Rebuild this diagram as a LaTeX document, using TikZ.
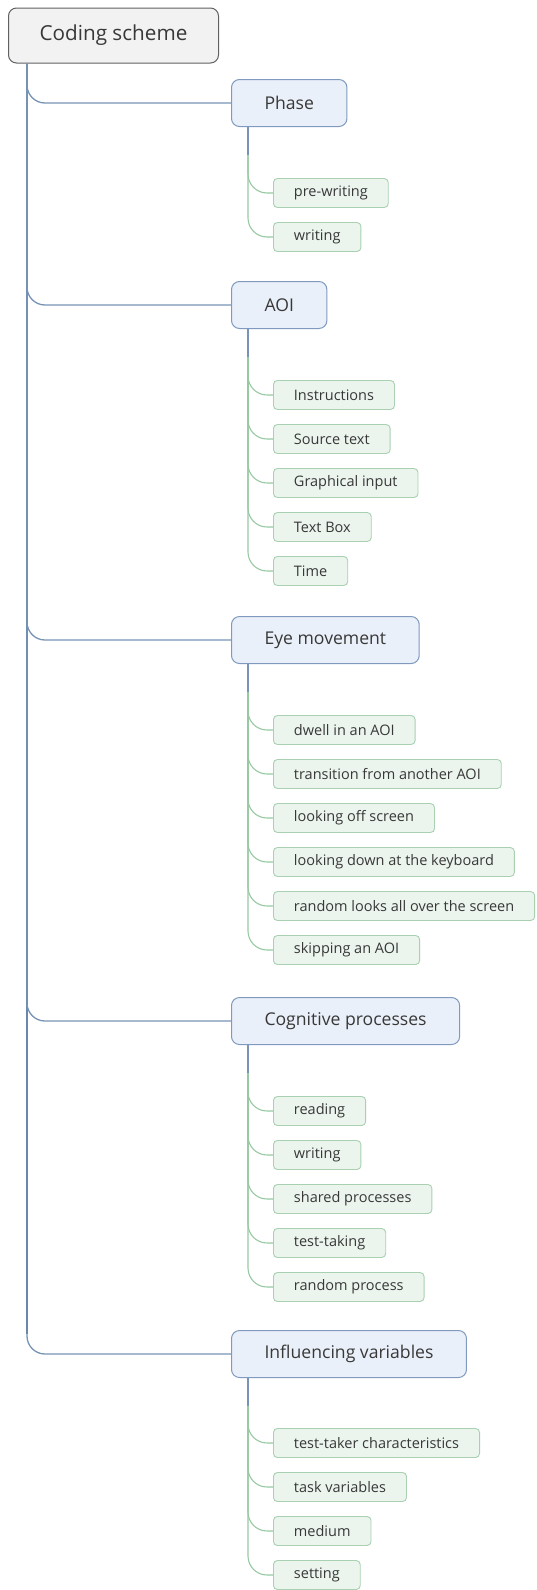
\documentclass[tikz,border=0pt]{standalone}
\usepackage{fontspec}
\setmainfont{Open Sans}
\begin{document}
\begin{tikzpicture}[x=1pt,y=-1pt,
  every node/.style={text=black!78, font=\fontsize{14.5}{16}\selectfont},
  rootbox/.style={draw=black!62, fill=black!5, line width=1pt, rounded corners=8pt,
    minimum height=55pt, inner xsep=29pt, anchor=west, font=\fontsize{20.7}{24}\selectfont},
  topicbox/.style={draw=topicline, fill=topicfill, line width=1pt, rounded corners=8pt,
    minimum height=47pt, inner xsep=33pt, anchor=west, font=\fontsize{17.6}{20}\selectfont},
  itembox/.style={draw=itemline, fill=itemfill, line width=0.9pt, rounded corners=4pt,
    minimum height=29pt, inner xsep=20.5pt, anchor=west},
  trunk/.style={draw=trunkcol, line width=2pt},
  branch/.style={draw=branchcol, line width=1.3pt, rounded corners=18pt},
  stem/.style={draw=branchcol, line width=1.2pt},
  twig/.style={draw=twigcol, line width=1.1pt, rounded corners=19pt}]
\definecolor{topicline}{HTML}{7F9ABE}
\definecolor{topicfill}{HTML}{EAF0F9}
\definecolor{itemline}{HTML}{A8D0B1}
\definecolor{itemfill}{HTML}{EBF5EE}
\definecolor{trunkcol}{HTML}{55769B}
\definecolor{branchcol}{HTML}{7793B6}
\definecolor{twigcol}{HTML}{96C9A1}

\useasboundingbox (0,0) rectangle (537,1590);

% root
\node[rootbox, minimum width=210pt] (root) at (8,35.5) {Coding scheme};

% main topics
\node[topicbox] (phase) at (231,103) {Phase};
\node[topicbox] (aoi) at (231,305) {AOI};
\node[topicbox] (eye) at (231,640) {Eye movement};
\node[topicbox] (cog) at (231,1021) {Cognitive processes};
\node[topicbox] (infl) at (231,1354) {Influencing variables};

% items
\node[itembox] (p1) at (273,193) {pre-writing};
\node[itembox] (p2) at (273,237) {writing};

\node[itembox] (a1) at (273,395) {Instructions};
\node[itembox] (a2) at (273,439) {Source text};
\node[itembox] (a3) at (273,483) {Graphical input};
\node[itembox] (a4) at (273,527) {Text Box};
\node[itembox] (a5) at (273,571) {Time};

\node[itembox] (e1) at (273,730) {dwell in an AOI};
\node[itembox] (e2) at (273,774) {transition from another AOI};
\node[itembox] (e3) at (273,818) {looking off screen};
\node[itembox] (e4) at (273,862) {looking down at the keyboard};
\node[itembox] (e5) at (273,906) {random looks all over the screen};
\node[itembox] (e6) at (273,950) {skipping an AOI};

\node[itembox] (c1) at (273,1111) {reading};
\node[itembox] (c2) at (273,1155) {writing};
\node[itembox] (c3) at (273,1199) {shared processes};
\node[itembox] (c4) at (273,1243) {test-taking};
\node[itembox] (c5) at (273,1287) {random process};

\node[itembox] (i1) at (273,1443) {test-taker characteristics};
\node[itembox] (i2) at (273,1487) {task variables};
\node[itembox] (i3) at (273,1531) {medium};
\node[itembox] (i4) at (273,1575) {setting};

% trunk from the root down to the last topic
\coordinate (t0) at ([xshift=19pt]root.south west);
\coordinate (tend) at (27,1334);
\draw[trunk] (t0) -- (tend);
\foreach \t in {phase,aoi,eye,cog,infl}
  \draw[branch] (t0) |- (\t.west);

% stems from each topic to its items
\foreach \t/\items in {phase/{p1,p2}, aoi/{a1,a2,a3,a4,a5},
    eye/{e1,e2,e3,e4,e5,e6}, cog/{c1,c2,c3,c4,c5}, infl/{i1,i2,i3,i4}} {
  \coordinate (\t-s) at ([xshift=17pt]\t.south west);
  \coordinate (\t-g) at ([xshift=17pt,yshift=-28pt]\t.south west);
  \draw[stem] (\t-s) -- (\t-g);
  \foreach \c in \items
    \draw[twig] (\t-g) |- (\c.west);
}
\end{tikzpicture}
\end{document}
